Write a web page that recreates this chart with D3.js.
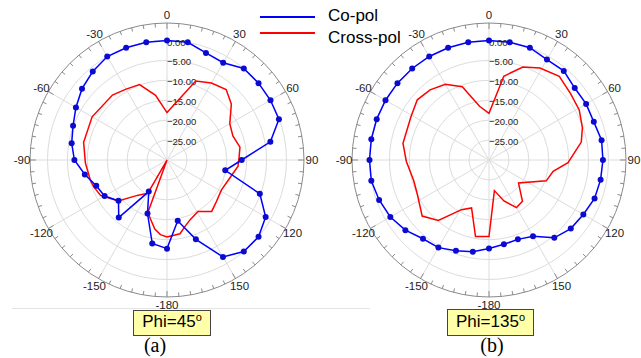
<!DOCTYPE html>
<html>
<head>
<meta charset="utf-8">
<script src="https://cdn.jsdelivr.net/npm/d3@7"></script>
<style>
  body { margin: 0; background: #fff; }
  text { font-family: Arial, "Liberation Sans", sans-serif; }
</style>
</head>
<body>
<div id="chart"></div>
<script>
// ---- data (dB values) ----
const coAngles = [-180,-170,-160,-150,-140,-130,-120,-110,-100,-90,-80,-70,-60,-50,-40,-30,-20,-10,
                  0,10,20,30,40,50,60,70,80,90,100,110,120,130,140,150,160,170];

// Phi = 45
const coPol45 = [-7.75,-8.7,-15.7,-20.85,-11.15,-14.1,-11.9,-11.1,-9.05,-6.75,-5.7,-4.9,-3.6,-2.15,-1.0,0.65,2.0,2.8,
                 2.7,1.15,-1.4,-1.8,1.5,1.85,1.8,-0.1,-3.65,-11.25,-15.15,-5.2,-1.4,0.3,0.2,-1.9,-8.8,-14.5];
const crossAngles45 = [-175,-170,-160,-155,-150,-140,-130,-118,-110,-105,-92,-78,-60,-40,-30,-20,-10,
                       0,20,30,40,49,60,70,80,88,95,106,119,130,139,149,159,165,170,180];
const crossPol45 = [-11.2,-12.4,-15.9,-40,-20.4,-18.4,-14.0,-11.1,-10.4,-10.1,-9.5,-8.6,-8.3,-8.7,-9.45,-9.85,-13.5,
                    -18.1,-8.9,-7.7,-6.9,-8.6,-11.8,-12.4,-11.4,-11.9,-12.1,-13.6,-14.4,-13.8,-12.9,-14.9,-13.9,-12.7,-11.2,-10.7];

// Phi = 135
const coPol135 = [-7.8,-6.6,-5.75,-4.6,-4.2,-2.6,-1.4,-0.65,0.2,0.6,0.65,0.65,0.4,0.2,0.25,0.1,1.0,2.2,
                  2.1,1.7,0.65,-0.9,-0.8,-1.9,-1.85,-2.0,-1.3,-1.4,-1.55,-1.8,-2.65,-3.2,-4.5,-7.9,-8.8,-8.5];
const crossAngles135 = [-170,-160,-151,-140,-130,-115,-105,-91,-79,-61,-50,-40,-30,-20,-10,
                        0,10,20,29,40,51,61,71,79,92,100,110,128,141,150,160,170,180];
const crossPol135 = [-10.5,-17.2,-15.75,-10.2,-8.1,-10.1,-10.4,-9.25,-8.0,-7.6,-6.5,-7.0,-8.05,-10.4,-16.3,
                     -18.3,-8.65,-5.15,-3.6,-2.55,-3.6,-4.1,-5.2,-6.4,-10.15,-13.65,-14.7,-20.6,-16.65,-16.2,-19.05,-22.2,-10.8];

const angleTicks = [0,30,60,90,120,150,180,-150,-120,-90,-60,-30];
const ringTicks = [0,-5,-10,-15,-20,-25];
const seriesNames = ["Co-pol", "Cross-pol"];

// ---- layout ----
const W = 641, H = 358;
const frameR = 137;
const blue = "#0000ff", red = "#ff0000";

const svg = d3.select("#chart").append("svg")
  .attr("width", W).attr("height", H);

const r = d3.scaleLinear().domain([-30, 0]).range([0, 119.5]).clamp(true);
const ang = d3.scaleLinear().domain([-180, 180]).range([-Math.PI, Math.PI]);

// faint separator line under the plots
svg.append("line")
  .attr("x1", 12).attr("x2", 370).attr("y1", 308.5).attr("y2", 308.5)
  .attr("stroke", "#e4e4e4").attr("stroke-width", 1);

function polar(cx, cy, co, crossA, crossV, phi, box, sub, subX) {
  const g = svg.append("g").attr("transform", `translate(${cx},${cy})`);

  // grid rings
  g.selectAll(".ring").data(ringTicks).enter().append("circle")
    .attr("r", d => r(d)).attr("fill", "none")
    .attr("stroke", "#dcdcdc").attr("stroke-width", 1);

  // spokes
  g.selectAll(".spoke").data(d3.range(0, 360, 30)).enter().append("line")
    .attr("x1", 0).attr("y1", 0)
    .attr("x2", d => frameR * Math.sin(ang(d)))
    .attr("y2", d => -frameR * Math.cos(ang(d)))
    .attr("stroke", "#dcdcdc").attr("stroke-width", 1);

  // frame + ticks
  g.append("circle").attr("r", frameR).attr("fill", "none")
    .attr("stroke", "#8a8a8a").attr("stroke-width", 1);
  g.selectAll(".tick").data(d3.range(0, 360, 5)).enter().append("line")
    .attr("x1", d => frameR * Math.sin(ang(d)))
    .attr("y1", d => -frameR * Math.cos(ang(d)))
    .attr("x2", d => (frameR - (d % 30 === 0 ? 6 : 4)) * Math.sin(ang(d)))
    .attr("y2", d => -(frameR - (d % 30 === 0 ? 6 : 4)) * Math.cos(ang(d)))
    .attr("stroke", "#8a8a8a").attr("stroke-width", 1);

  // angle labels
  g.selectAll(".alab").data(angleTicks).enter().append("text")
    .attr("x", d => 145 * Math.sin(ang(d)))
    .attr("y", d => -145 * Math.cos(ang(d)))
    .attr("text-anchor", "middle").attr("dominant-baseline", "central")
    .attr("font-size", "11.5px").attr("fill", "#222")
    .text(d => d === 180 ? "-180" : d);

  // radial labels
  g.selectAll(".rlab").data(ringTicks).enter().append("text")
    .attr("x", 0).attr("y", d => -r(d) + 1.5)
    .attr("dominant-baseline", "central")
    .attr("font-size", "9.5px").attr("fill", "#222")
    .text(d => d3.format(".2f")(d));

  const line = d3.lineRadial()
    .angle(d => ang(d[0])).radius(d => r(d[1]))
    .curve(d3.curveLinearClosed);

  // cross-pol
  g.append("path").datum(d3.zip(crossA, crossV))
    .attr("d", line).attr("fill", "none")
    .attr("stroke", red).attr("stroke-width", 1.5);

  // co-pol
  const coPts = d3.zip(coAngles, co);
  g.append("path").datum(coPts)
    .attr("d", line).attr("fill", "none")
    .attr("stroke", blue).attr("stroke-width", 1.5);
  g.selectAll(".dot").data(coPts).enter().append("circle")
    .attr("cx", d => r(d[1]) * Math.sin(ang(d[0])))
    .attr("cy", d => -r(d[1]) * Math.cos(ang(d[0])))
    .attr("r", 3).attr("fill", "#0a0ad0");

  // Phi label box
  svg.append("rect")
    .attr("x", box[0]).attr("y", box[1]).attr("width", box[2]).attr("height", box[3])
    .attr("fill", "#ffffa8").attr("stroke", "#444").attr("stroke-width", 1);
  const t = svg.append("text")
    .attr("x", box[0] + box[2] / 2).attr("y", 327)
    .attr("text-anchor", "middle").attr("font-size", "17px").attr("fill", "#000");
  t.append("tspan").text("Phi=" + phi);
  t.append("tspan").attr("font-size", "11px").attr("dy", "-6").text("o");

  svg.append("text")
    .attr("x", subX).attr("y", 352)
    .attr("text-anchor", "middle")
    .style("font-family", "'Times New Roman', 'Liberation Serif', serif")
    .attr("font-size", "20px").attr("fill", "#000")
    .text(sub);
}

polar(167, 160, coPol45, crossAngles45, crossPol45, "45", [133.5, 310.5, 77, 25], "(a)", 155);
polar(489, 160, coPol135, crossAngles135, crossPol135, "135", [447.5, 309.5, 86, 26], "(b)", 492);

// legend
const legend = svg.append("g");
legend.selectAll("line").data(seriesNames).enter().append("line")
  .attr("x1", 260).attr("x2", 315)
  .attr("y1", (d, i) => 17 + i * 16).attr("y2", (d, i) => 17 + i * 16)
  .attr("stroke", (d, i) => i === 0 ? blue : red).attr("stroke-width", 2);
legend.selectAll("text").data(seriesNames).enter().append("text")
  .attr("x", 328).attr("y", (d, i) => 21 + i * 22)
  .attr("font-size", "17px").attr("fill", "#000")
  .text(d => d);
</script>
</body>
</html>
